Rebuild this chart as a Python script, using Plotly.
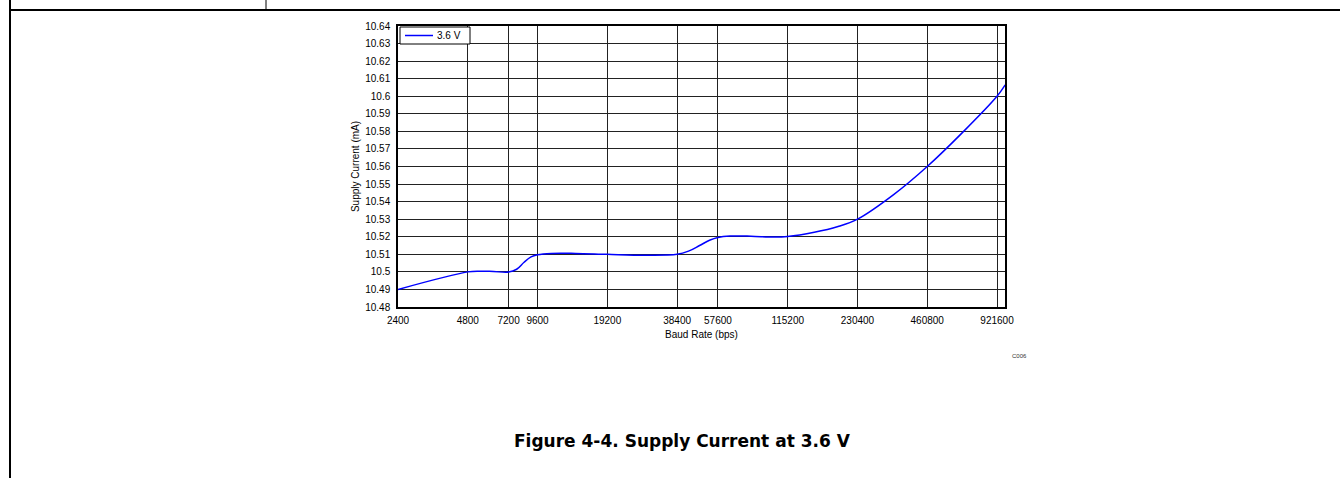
import plotly.graph_objects as go

baud = [2400, 4800, 5400, 6200, 7200, 7800, 8400, 9000, 9600, 11000, 14000, 19200, 28000, 38400,
        43000, 48000, 53000, 57600, 65000, 80000, 100000, 115200, 150000, 190000, 230400,
        330000, 460800, 650000, 921600, 1000000]
current = [10.490, 10.500, 10.5004, 10.5002, 10.4999, 10.5015, 10.5055, 10.5085, 10.5097, 10.5105,
           10.5105, 10.5100, 10.5095, 10.5100, 10.5118, 10.5150, 10.5180, 10.5196, 10.5204,
           10.5203, 10.5198, 10.5201, 10.5225, 10.5258, 10.5300, 10.5440, 10.5600, 10.5790,
           10.6000, 10.6065]
series_name = "3.6 V"

x_ticks = [2400, 4800, 7200, 9600, 19200, 38400, 57600, 115200, 230400, 460800, 921600]
x_labels = ["2400", "4800", "7200", "9600", "19200", "38400", "57600", "115200", "230400", "460800", "921600"]
y_ticks = [10.48, 10.49, 10.50, 10.51, 10.52, 10.53, 10.54, 10.55, 10.56, 10.57, 10.58, 10.59, 10.60, 10.61, 10.62, 10.63, 10.64]
y_labels = ["10.48", "10.49", "10.5", "10.51", "10.52", "10.53", "10.54", "10.55", "10.56", "10.57", "10.58", "10.59", "10.6", "10.61", "10.62", "10.63", "10.64"]

W, H = 1340, 478
L, R, T, B = 398, 1005, 26, 307
BLUE = "#0000ff"

fig = go.Figure()
fig.add_trace(go.Scatter(x=baud, y=current, mode="lines", name=series_name, showlegend=False,
                         line=dict(color=BLUE, width=1.5, shape="spline", smoothing=1.0)))


def px(xp):
    return (xp - L) / (R - L)


def py(yp):
    return (B - yp) / (B - T)


shapes = [
    # page frame
    dict(type="line", xref="paper", yref="paper", x0=px(10), x1=px(1345), y0=py(10), y1=py(10),
         line=dict(color="black", width=2)),
    dict(type="line", xref="paper", yref="paper", x0=px(10), x1=px(10), y0=py(-5), y1=py(485),
         line=dict(color="black", width=2)),
    dict(type="line", xref="paper", yref="paper", x0=px(266), x1=px(266), y0=py(-5), y1=py(10),
         line=dict(color="black", width=1)),
    # legend box
    dict(type="rect", xref="paper", yref="paper", x0=px(400), x1=px(470), y0=py(27), y1=py(44),
         line=dict(color="black", width=1), fillcolor="white", layer="above"),
    dict(type="line", xref="paper", yref="paper", x0=px(405), x1=px(433), y0=py(35.5), y1=py(35.5),
         line=dict(color=BLUE, width=1.5), layer="above"),
]

fig.update_layout(
    width=W, height=H,
    margin=dict(l=L, r=W - R, t=T, b=H - B),
    paper_bgcolor="white", plot_bgcolor="white",
    font=dict(family="Liberation Sans, Arial, sans-serif", size=10, color="black"),
    showlegend=False,
    xaxis=dict(type="log", range=[3.380211, 5.999], tickvals=x_ticks, ticktext=x_labels,
               showgrid=True, gridcolor="#222222", gridwidth=1, showline=True,
               linecolor="black", linewidth=1.5, mirror=True, ticks="", zeroline=False,
               ticklabelstandoff=3,
               title=dict(text="Baud Rate (bps)", font=dict(size=10), standoff=6),
               tickfont=dict(size=10)),
    yaxis=dict(range=[10.48, 10.64], tickvals=y_ticks, ticktext=y_labels,
               showgrid=True, gridcolor="#222222", gridwidth=1, showline=True,
               linecolor="black", linewidth=1.5, mirror=True, ticks="", zeroline=False,
               ticklabelstandoff=4,
               title=dict(text="Supply Current (mA)", font=dict(size=10), standoff=4),
               tickfont=dict(size=10)),
    shapes=shapes,
    annotations=[
        dict(text=series_name, xref="paper", yref="paper", x=px(435), y=py(35.5),
             xanchor="left", yanchor="middle", showarrow=False, font=dict(size=10)),
        dict(text="C006", xref="paper", yref="paper", x=px(1019), y=py(356),
             xanchor="center", yanchor="middle", showarrow=False,
             font=dict(size=6, color="#333333")),
        dict(text="<b>Figure 4-4. Supply Current at 3.6 V</b>", xref="paper", yref="paper",
             x=px(682), y=py(441), xanchor="center", yanchor="middle", showarrow=False,
             font=dict(size=17, color="black", family="DejaVu Sans, sans-serif")),
    ],
)

fig.write_html("out.html", config={"displayModeBar": False},
               post_script="document.body.style.margin='0';document.body.style.overflow='hidden';")
